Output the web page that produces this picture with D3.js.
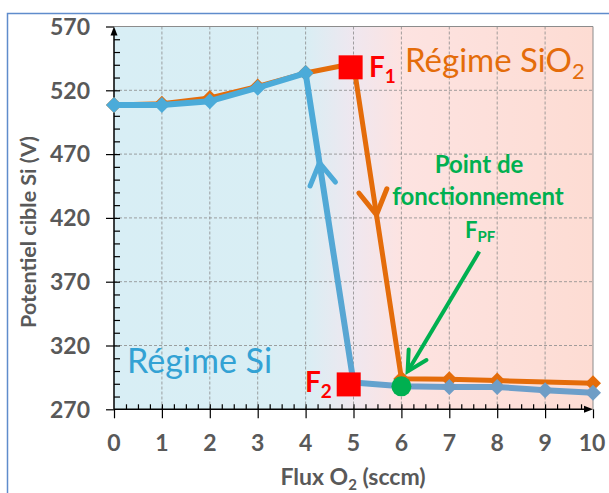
<!DOCTYPE html>
<html>
<head>
<meta charset="utf-8">
<script src="https://cdn.jsdelivr.net/npm/d3@7"></script>
<style>
  body { margin:0; background:#fff; }
  svg { display:block; font-family: Lato, "Open Sans", sans-serif; }
</style>
</head>
<body>
<svg width="609" height="493"></svg>
<script>
// data
var flux_si   = [0, 1, 2, 3, 4, 5, 6, 7, 8, 9, 10];
var pot_si    = [508.5, 508.5, 511.5, 522, 533.5, 291, 288, 287.5, 287.5, 285, 283];
var flux_sio2 = [0, 1, 2, 3, 4, 5, 6, 7, 8, 10];
var pot_sio2  = [508.5, 509.5, 514, 523, 533.5, 541, 294, 293.5, 292.5, 290.5];
var x_ticks = [0, 1, 2, 3, 4, 5, 6, 7, 8, 9, 10];
var y_ticks = [270, 320, 370, 420, 470, 520, 570];
// F1, F2 squares and operating point
var f_points = [{lab:"1", x:4.94, y:538}, {lab:"2", x:4.9, y:289.5}];
var pf_point = {x:6, y:288};

var svg = d3.select("svg");
var x = d3.scaleLinear().domain([0, 10]).range([114, 593]);
var y = d3.scaleLinear().domain([270, 570]).range([409.3, 26.5]);
var grey = "#595959";

// outer frame
svg.append("rect").attr("x", 7.5).attr("y", 13.5).attr("width", 700).attr("height", 600)
  .attr("fill", "none").attr("stroke", "#5f8ccc").attr("stroke-width", 1.5);

var defs = svg.append("defs");
var bg = defs.append("linearGradient").attr("id", "bg").attr("gradientUnits", "userSpaceOnUse")
  .attr("x1", x(0)).attr("x2", x(10)).attr("y1", 0).attr("y2", 0);
[[0, "#d8eef5"], [0.4, "#d9eef4"], [0.5, "#efe7ef"], [0.6, "#fde3e1"], [1, "#fddcd3"]].forEach(function(s){
  bg.append("stop").attr("offset", s[0]).attr("stop-color", s[1]);
});
var bl = defs.append("linearGradient").attr("id", "blueline").attr("gradientUnits", "userSpaceOnUse")
  .attr("x1", x(4)).attr("x2", x(6)).attr("y1", 0).attr("y2", 0);
bl.append("stop").attr("offset", 0).attr("stop-color", "#4babd9");
bl.append("stop").attr("offset", 1).attr("stop-color", "#6d9fca");
var blueAt = d3.scaleLinear().domain([4, 6.5]).range(["#4babd9", "#6f9dc6"]).clamp(true);

svg.append("rect").attr("x", x(0)).attr("y", y(570)).attr("width", x(10)-x(0)).attr("height", y(270)-y(570))
  .attr("fill", "url(#bg)");

// grid
svg.selectAll(".vg").data(x_ticks.slice(1, -1)).enter().append("line")
  .attr("x1", d => x(d)).attr("x2", d => x(d)).attr("y1", y(570)).attr("y2", y(270))
  .attr("stroke", "#8a8a8a").attr("stroke-width", 0.8).attr("stroke-dasharray", "3,2");
svg.selectAll(".hg").data(y_ticks.slice(1, -1)).enter().append("line")
  .attr("x1", x(0)).attr("x2", x(10)).attr("y1", d => y(d)).attr("y2", d => y(d))
  .attr("stroke", "#8a8a8a").attr("stroke-width", 0.8).attr("stroke-dasharray", "3,2");
// plot border top/right
svg.append("path").attr("d", "M" + x(0) + "," + y(570) + "H" + x(10) + "V" + y(270))
  .attr("fill", "none").attr("stroke", "#8c8c8c").attr("stroke-width", 1);

// axes
var yAxis = d3.axisLeft(y).tickValues(y_ticks).tickSize(8).tickFormat("");
svg.append("g").attr("transform", "translate(" + x(0) + ",0)").call(yAxis);
svg.append("g").attr("transform", "translate(" + x(0) + ",0)")
  .call(d3.axisRight(y).tickValues(d3.range(280, 570, 10)).tickSize(6).tickFormat(""));
var xAxis = d3.axisBottom(x).tickValues(x_ticks).tickSize(9).tickFormat("");
svg.append("g").attr("transform", "translate(0," + y(270) + ")").call(xAxis);
svg.append("g").attr("transform", "translate(0," + y(270) + ")")
  .call(d3.axisTop(x).tickValues(d3.range(0.25, 10, 0.25)).tickSize(5).tickFormat(""));
svg.selectAll(".domain").remove();
svg.selectAll(".tick line").attr("stroke", "#000").attr("stroke-width", 1.2);
// axis lines with arrows
svg.append("line").attr("x1", x(0)).attr("x2", x(0)).attr("y1", y(270)).attr("y2", y(570)+6)
  .attr("stroke", "#000").attr("stroke-width", 1.5);
svg.append("path").attr("d", "M" + (x(0)-3.5) + "," + (y(570)+9) + "L" + x(0) + "," + (y(570)) + "L" + (x(0)+3.5) + "," + (y(570)+9) + "Z");
svg.append("line").attr("x1", x(0)).attr("x2", x(10)-6).attr("y1", y(270)).attr("y2", y(270))
  .attr("stroke", "#000").attr("stroke-width", 1.5);
svg.append("path").attr("d", "M" + (x(10)-9) + "," + (y(270)-3.5) + "L" + x(10) + "," + y(270) + "L" + (x(10)-9) + "," + (y(270)+3.5) + "Z");

// tick labels
svg.selectAll(".yl").data(y_ticks).enter().append("text")
  .attr("x", 90).attr("y", d => y(d)).attr("dy", "0.36em").attr("text-anchor", "end")
  .attr("font-size", 23).attr("font-weight", "bold").attr("fill", grey).text(d => d);
svg.selectAll(".xl").data(x_ticks).enter().append("text")
  .attr("x", d => x(d) + (d == 10 ? -1 : 0)).attr("y", 451).attr("text-anchor", "middle")
  .attr("font-size", 23).attr("font-weight", "bold").attr("fill", grey).text(d => d);

// axis titles
svg.append("text").attr("transform", "translate(36,232) rotate(-90)").attr("text-anchor", "middle")
  .attr("font-size", 21.5).attr("font-weight", "bold").attr("fill", grey).text("Potentiel cible Si (V)");
var xt = svg.append("text").attr("x", 353).attr("y", 485).attr("text-anchor", "middle")
  .attr("font-size", 23).attr("font-weight", "bold").attr("fill", grey);
xt.append("tspan").text("Flux O");
xt.append("tspan").attr("font-size", 15).attr("dy", 5).text("2");
xt.append("tspan").attr("dy", -5).text(" (sccm)");

// series
var line = d3.line().x(d => x(d[0])).y(d => y(d[1]));
var sio2 = flux_sio2.map((v, i) => [v, pot_sio2[i]]);
var si = flux_si.map((v, i) => [v, pot_si[i]]);
function diamond(d) {
  var cx = x(d[0]), cy = y(d[1]), r = 8;
  return "M" + cx + "," + (cy-r) + "L" + (cx+r) + "," + cy + "L" + cx + "," + (cy+r) + "L" + (cx-r) + "," + cy + "Z";
}
svg.append("path").datum(sio2).attr("d", line).attr("fill", "none")
  .attr("stroke", "#e46c0a").attr("stroke-width", 5).attr("stroke-linejoin", "round");
svg.selectAll(".od").data(sio2).enter().append("path").attr("d", diamond).attr("fill", "#e46c0a");
svg.append("path").datum(si).attr("d", line).attr("fill", "none")
  .attr("stroke", "url(#blueline)").attr("stroke-width", 6).attr("stroke-linejoin", "round");
svg.selectAll(".bd").data(si).enter().append("path").attr("d", diamond).attr("fill", d => blueAt(d[0]));

// direction chevrons: tip at fraction t from p0 to p1, arms pointing back toward p0
function chevron(p0, p1, t, len, ang, col, w) {
  var ax = x(p0[0]), ay = y(p0[1]), bx = x(p1[0]), by = y(p1[1]);
  var tx = ax + (bx - ax) * t, ty = ay + (by - ay) * t;
  var back = Math.atan2(ay - by, ax - bx);
  var a1 = back + ang, a2 = back - ang;
  svg.append("path").attr("d", "M" + (tx + len*Math.cos(a1)) + "," + (ty + len*Math.sin(a1)) +
      "L" + tx + "," + ty + "L" + (tx + len*Math.cos(a2)) + "," + (ty + len*Math.sin(a2)))
    .attr("fill", "none").attr("stroke", col).attr("stroke-width", w).attr("stroke-linecap", "round");
}
// blue goes up (5 -> 4), orange goes down (5 -> 6)
chevron(si[5], si[4], 0.71, 25, 0.54, "#4eaad8", 5);
chevron(sio2[5], sio2[6], 0.48, 28, 0.53, "#e46c0a", 5);

// F1, F2 squares
svg.selectAll(".fs").data(f_points).enter().append("rect")
  .attr("x", d => x(d.x) - 12).attr("y", d => y(d.y) - 12).attr("width", 24).attr("height", 24)
  .attr("fill", "#ff0000");
// operating point
svg.append("circle").attr("cx", x(pf_point.x)).attr("cy", y(pf_point.y)).attr("r", 10).attr("fill", "#00b050");

// green arrow to operating point
var arr = [[7.625, 393.6], [6.13, 299.7]];
svg.append("line").attr("x1", x(arr[0][0])).attr("y1", y(arr[0][1])).attr("x2", x(arr[1][0])).attr("y2", y(arr[1][1]))
  .attr("stroke", "#00b050").attr("stroke-width", 4);
chevron(arr[0], arr[1], 1.0, 22, 0.49, "#00b050", 4);

// labels
function subText(px, py, main, sub, size, col, weight, subsize) {
  var t = svg.append("text").attr("x", px).attr("y", py).attr("font-size", size)
    .attr("font-weight", weight).attr("fill", col);
  t.append("tspan").text(main);
  t.append("tspan").attr("font-size", subsize || Math.round(size * 0.68)).attr("dy", size * 0.2).text(sub);
  return t;
}
subText(369, 77, "F", "1", 28, "#ff0000", "bold");
subText(305, 392, "F", "2", 28, "#ff0000", "bold");
subText(405, 72, "Régime SiO", "2", 33, "#e46c0a", "normal");
svg.append("text").attr("x", 127).attr("y", 373).attr("font-size", 34).attr("fill", "#33a2d4")
  .text("Régime Si");
svg.append("text").attr("x", 479).attr("y", 173).attr("text-anchor", "middle").attr("font-size", 24)
  .attr("font-weight", "bold").attr("fill", "#00b050").text("Point de");
svg.append("text").attr("x", 478).attr("y", 205).attr("text-anchor", "middle").attr("font-size", 24)
  .attr("font-weight", "bold").attr("fill", "#00b050").text("fonctionnement");
subText(465, 238, "F", "PF", 22, "#00b050", "bold", 15);
</script>
</body>
</html>
